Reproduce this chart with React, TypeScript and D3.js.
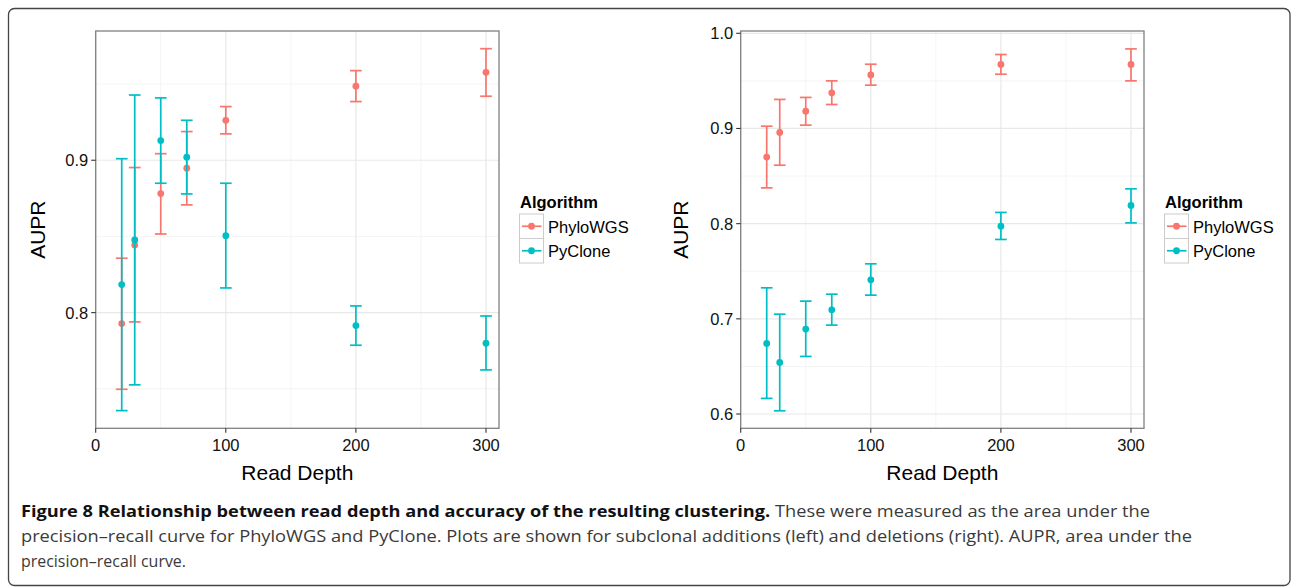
import React from "react";
import * as d3 from "d3";

// ---- Data ----
const readDepths = [20, 30, 50, 70, 100, 200, 300];
const seriesNames = ["PhyloWGS", "PyClone"];
const seriesColors = ["#F8766D", "#00BFC4"];

// Left panel: subclonal additions
const addPhyloMean = [0.7928, 0.8444, 0.8781, 0.8948, 0.9262, 0.9486, 0.9577];
const addPhyloLow = [0.7497, 0.7939, 0.8516, 0.8707, 0.9173, 0.9385, 0.942];
const addPhyloHigh = [0.8357, 0.8952, 0.9043, 0.9188, 0.9352, 0.9588, 0.9732];
const addPyMean = [0.8184, 0.8477, 0.9129, 0.902, 0.8505, 0.7915, 0.7799];
const addPyLow = [0.7357, 0.7526, 0.8849, 0.8779, 0.8162, 0.7786, 0.7624];
const addPyHigh = [0.901, 0.9428, 0.9409, 0.9262, 0.8849, 0.8044, 0.7978];

// Right panel: subclonal deletions
const delPhyloMean = [0.8699, 0.8958, 0.9182, 0.9374, 0.9563, 0.9672, 0.9672];
const delPhyloLow = [0.8376, 0.8614, 0.9035, 0.9252, 0.9455, 0.957, 0.95];
const delPhyloHigh = [0.9024, 0.9305, 0.9326, 0.95, 0.9675, 0.9777, 0.9836];
const delPyMean = [0.6742, 0.6542, 0.6892, 0.7095, 0.741, 0.7974, 0.8191];
const delPyLow = [0.6164, 0.6034, 0.6605, 0.6934, 0.7249, 0.7834, 0.8008];
const delPyHigh = [0.7326, 0.7049, 0.7186, 0.7259, 0.7578, 0.8118, 0.8366];

const xTicks = [0, 100, 200, 300];
const xMinor = [50, 150, 250];
const leftYTicks = [0.8, 0.9];
const leftYMinor = [0.75, 0.85, 0.95];
const rightYTicks = [0.6, 0.7, 0.8, 0.9, 1.0];
const rightYMinor = [0.65, 0.75, 0.85, 0.95];

const xLabel = "Read Depth";
const yLabel = "AUPR";
const legendTitle = "Algorithm";
const captionBold = "Figure 8 Relationship between read depth and accuracy of the resulting clustering.";
const captionLine1 = " These were measured as the area under the";
const captionLine2 =
  "precision\u2013recall curve for PhyloWGS and PyClone. Plots are shown for subclonal additions (left) and deletions (right). AUPR, area under the";
const captionLine3 = "precision\u2013recall curve.";

const FONT = "'Liberation Sans', Arial, Helvetica, sans-serif";
const CAPFONT = "'Open Sans', 'Noto Sans', sans-serif";

type Series = { mean: number[]; low: number[]; high: number[] };

function Panel(props: {
  left: number;
  right: number;
  top: number;
  bottom: number;
  yDomain: [number, number];
  yTicks: number[];
  yMinor: number[];
  series: Series[];
  yTitleX: number;
  legendX: number;
}) {
  const { left, right, top, bottom, yDomain, yTicks, yMinor, series, yTitleX, legendX } = props;
  const x = d3.scaleLinear().domain([0, 310]).range([left, right]);
  const y = d3.scaleLinear().domain(yDomain).range([bottom, top]);
  const capHalf = 4.5;
  const fmt = d3.format(".1f");
  return (
    <g>
      <rect x={left} y={top} width={right - left} height={bottom - top} fill="#fff" />
      {xMinor.map((v) => (
        <line key={"xm" + v} x1={x(v)} x2={x(v)} y1={top} y2={bottom} stroke="#f4f4f4" strokeWidth={1} />
      ))}
      {yMinor.map((v) => (
        <line key={"ym" + v} x1={left} x2={right} y1={y(v)} y2={y(v)} stroke="#f4f4f4" strokeWidth={1} />
      ))}
      {xTicks.map((v) => (
        <line key={"xg" + v} x1={x(v)} x2={x(v)} y1={top} y2={bottom} stroke="#e8e8e8" strokeWidth={1.2} />
      ))}
      {yTicks.map((v) => (
        <line key={"yg" + v} x1={left} x2={right} y1={y(v)} y2={y(v)} stroke="#e8e8e8" strokeWidth={1.2} />
      ))}
      {series.map((s, si) => (
        <g key={"s" + si} stroke={seriesColors[si]} fill={seriesColors[si]}>
          {readDepths.map((d, i) => (
            <g key={i}>
              <line x1={x(d)} x2={x(d)} y1={y(s.low[i])} y2={y(s.high[i])} strokeWidth={1.7} />
              <line x1={x(d - capHalf)} x2={x(d + capHalf)} y1={y(s.low[i])} y2={y(s.low[i])} strokeWidth={1.7} />
              <line x1={x(d - capHalf)} x2={x(d + capHalf)} y1={y(s.high[i])} y2={y(s.high[i])} strokeWidth={1.7} />
              <circle cx={x(d)} cy={y(s.mean[i])} r={3.4} stroke="none" />
            </g>
          ))}
        </g>
      ))}
      <rect
        x={left}
        y={top}
        width={right - left}
        height={bottom - top}
        fill="none"
        stroke="#808080"
        strokeWidth={1.3}
      />
      {xTicks.map((v) => (
        <g key={"xt" + v}>
          <line x1={x(v)} x2={x(v)} y1={bottom} y2={bottom + 4.5} stroke="#333" strokeWidth={1.1} />
          <text x={x(v)} y={bottom + 22.5} textAnchor="middle" fontFamily={FONT} fontSize={16.5} fill="#111">
            {v}
          </text>
        </g>
      ))}
      {yTicks.map((v) => (
        <g key={"yt" + v}>
          <line x1={left - 4.5} x2={left} y1={y(v)} y2={y(v)} stroke="#333" strokeWidth={1.1} />
          <text
            x={left - 7.5}
            y={y(v)}
            dy="0.36em"
            textAnchor="end"
            fontFamily={FONT}
            fontSize={16.5}
            fill="#111"
          >
            {fmt(v)}
          </text>
        </g>
      ))}
      <text
        x={(left + right) / 2}
        y={480}
        textAnchor="middle"
        fontFamily={FONT}
        fontSize={21}
        fill="#000"
      >
        {xLabel}
      </text>
      <text
        transform={`translate(${yTitleX},${(top + bottom) / 2}) rotate(-90)`}
        textAnchor="middle"
        fontFamily={FONT}
        fontSize={21}
        fill="#000"
      >
        {yLabel}
      </text>
      {/* Legend */}
      <g>
        <text x={legendX} y={208} fontFamily={FONT} fontSize={16.5} fontWeight="bold" fill="#000">
          {legendTitle}
        </text>
        {seriesNames.map((n, i) => (
          <g key={n}>
            <rect
              x={legendX - 0.5}
              y={214 + i * 24.5}
              width={24}
              height={24.5}
              fill="#fff"
              stroke="#cccccc"
              strokeWidth={1}
            />
            <line
              x1={legendX + 2}
              x2={legendX + 21.5}
              y1={214 + i * 24.5 + 12.25}
              y2={214 + i * 24.5 + 12.25}
              stroke={seriesColors[i]}
              strokeWidth={1.7}
            />
            <circle cx={legendX + 11.5} cy={214 + i * 24.5 + 12.25} r={3.4} fill={seriesColors[i]} />
            <text
              x={legendX + 28}
              y={214 + i * 24.5 + 18.5}
              fontFamily={FONT}
              fontSize={16.5}
              fill="#000"
            >
              {n}
            </text>
          </g>
        ))}
      </g>
    </g>
  );
}

export default function App() {
  const leftSeries: Series[] = [
    { mean: addPhyloMean, low: addPhyloLow, high: addPhyloHigh },
    { mean: addPyMean, low: addPyLow, high: addPyHigh },
  ];
  const rightSeries: Series[] = [
    { mean: delPhyloMean, low: delPhyloLow, high: delPhyloHigh },
    { mean: delPyMean, low: delPyLow, high: delPyHigh },
  ];
  return (
    <svg
      width={1292}
      height={587}
      style={{ position: "absolute", left: 0, top: 0, background: "#fff" }}
    >
      <rect x={0} y={0} width={1292} height={587} fill="#fff" />
      <rect
        x={8.5}
        y={8.5}
        width={1281.5}
        height={577}
        rx={6}
        ry={6}
        fill="#fff"
        stroke="#444"
        strokeWidth={1.3}
      />
      <Panel
        left={95.7}
        right={499}
        top={31}
        bottom={428.3}
        yDomain={[0.7241, 0.9848]}
        yTicks={leftYTicks}
        yMinor={leftYMinor}
        series={leftSeries}
        yTitleX={44.5}
        legendX={520}
      />
      <Panel
        left={740.7}
        right={1144}
        top={31}
        bottom={428.3}
        yDomain={[0.585, 1.0024]}
        yTicks={rightYTicks}
        yMinor={rightYMinor}
        series={rightSeries}
        yTitleX={688}
        legendX={1165}
      />
      <text x={21} y={517} fontFamily={CAPFONT} fontSize={16.5} textLength={1129} lengthAdjust="spacingAndGlyphs">
        <tspan fontWeight="bold" fill="#111">
          {captionBold}
        </tspan>
        <tspan fill="#3a3a3a">{captionLine1}</tspan>
      </text>
      <text
        x={21}
        y={542}
        fontFamily={CAPFONT}
        fontSize={16.5}
        fill="#3a3a3a"
        textLength={1171}
        lengthAdjust="spacingAndGlyphs"
      >
        {captionLine2}
      </text>
      <text
        x={21}
        y={567}
        fontFamily={CAPFONT}
        fontSize={16.5}
        fill="#3a3a3a"
        textLength={165}
        lengthAdjust="spacingAndGlyphs"
      >
        {captionLine3}
      </text>
    </svg>
  );
}
